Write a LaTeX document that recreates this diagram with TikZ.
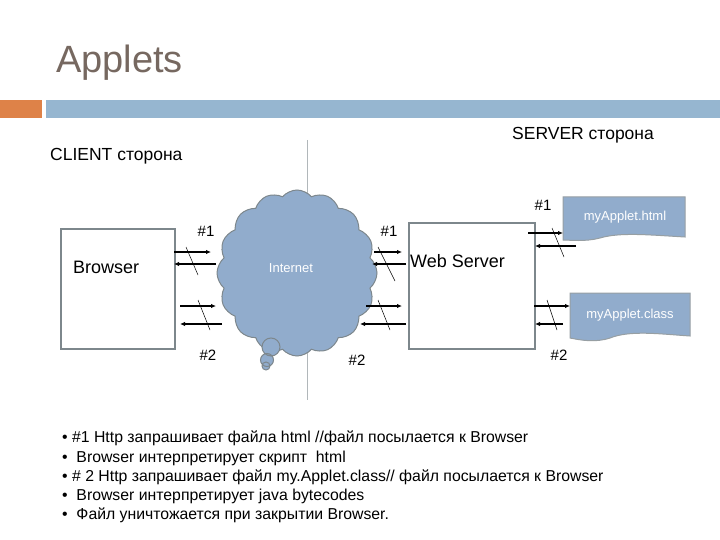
\documentclass[tikz,border=0pt]{standalone}
\usepackage{fontspec}
\setmainfont{Liberation Sans}
\usetikzlibrary{shapes.symbols,arrows.meta}
\definecolor{boxgray}{RGB}{125,135,140}
\definecolor{cloudc}{RGB}{145,172,204}
\definecolor{barblue}{RGB}{150,182,208}
\definecolor{barorange}{RGB}{222,130,72}
\definecolor{titlec}{RGB}{118,104,96}
\begin{document}
\begin{tikzpicture}[x=1pt,y=-1pt,
  box/.style={draw=boxgray,line width=1.6pt},
  arr/.style={line width=1.4pt,-{Latex[length=5pt,width=4.5pt]}},
  sl/.style={line width=0.5pt},
  lab/.style={font=\fontsize{15}{17}\selectfont,inner sep=0pt},
  doc/.style={fill=cloudc,draw=boxgray!80,line width=1pt}]
\useasboundingbox (0,0) rectangle (720,540);
\node[anchor=base west,text=titlec,font=\fontsize{38}{40}\selectfont,inner sep=0pt] (title) at (56,73) {Applets};
\fill[barorange] (0,100) rectangle (42,118);
\fill[barblue] (46,100) rectangle (720,118);
\draw[boxgray!60,line width=0.6pt] (307,140) -- (307,400);
\node[anchor=west,inner sep=0pt,font=\fontsize{17.5}{19}\selectfont] (srv) at (512,135) {SERVER сторона};
\node[anchor=west,inner sep=0pt,font=\fontsize{17.5}{19}\selectfont] (cli) at (50,156) {CLIENT сторона};
% boxes
\node[box,minimum width=114,minimum height=120,anchor=north west] (br) at (60,228) {};
\node[anchor=west,inner sep=0pt,font=\fontsize{18}{20}\selectfont] (brt) at (73,267) {Browser};
\node[box,minimum width=126,minimum height=126,anchor=north west] (ws) at (408,222) {};
\node[anchor=west,inner sep=0pt,font=\fontsize{18}{20}\selectfont] (wst) at (410,261) {Web Server};
% cloud
\node[cloud,cloud puffs=16,cloud puff arc=100,aspect=1.0,fill=cloudc,draw=boxgray,line width=1pt,minimum width=160,minimum height=166,inner sep=0pt] (cl) at (297,273) {};
\node[text=white,inner sep=0pt,font=\fontsize{13}{15}\selectfont] (clt) at (291,268) {Internet};
\draw[fill=cloudc,draw=boxgray,line width=1pt] (271,347) circle (9) (267,360) circle (6.5) (266,366) circle (4);
% docs
\path[doc] (563,197) -- (685,197) -- (685,237) .. controls (650,235) and (620,232) .. (600,238) .. controls (585,242) and (570,240) .. (563,240) -- cycle;
\node[text=white,inner sep=0pt,font=\fontsize{13}{15}\selectfont] (h) at (625,217) {myApplet.html};
\path[doc] (570,293) -- (690,293) -- (690,336) .. controls (660,334) and (630,330) .. (610,338) .. controls (595,343) and (580,340) .. (570,338) -- cycle;
\node[text=white,inner sep=0pt,font=\fontsize{13}{15}\selectfont] (c) at (630,315) {myApplet.class};
% coordinates for arrows
\coordinate (a1s) at (174,252); \coordinate (a1e) at (211,252);
\coordinate (a2s) at (216,264); \coordinate (a2e) at (174,264);
\coordinate (a3s) at (180,306); \coordinate (a3e) at (216,306);
\coordinate (a4s) at (222,324); \coordinate (a4e) at (180,324);
\draw[arr] (a1s) -- (a1e); \draw[arr] (a2s) -- (a2e);
\draw[arr] (a3s) -- (a3e); \draw[arr] (a4s) -- (a4e);
\draw[sl] (186,247) -- (198,275); \draw[sl] (198,300) -- (210,330);
\coordinate (b1s) at (374,252); \coordinate (b1e) at (402,252);
\coordinate (b2s) at (406,264); \coordinate (b2e) at (372,264);
\coordinate (b3s) at (366,306); \coordinate (b3e) at (402,306);
\coordinate (b4s) at (406,324); \coordinate (b4e) at (360,324);
\draw[arr] (b1s) -- (b1e); \draw[arr] (b2s) -- (b2e);
\draw[arr] (b3s) -- (b3e); \draw[arr] (b4s) -- (b4e);
\draw[sl] (378,247) -- (395,281); \draw[sl] (378,300) -- (390,330);
\coordinate (c1s) at (528,233); \coordinate (c1e) at (563,233);
\coordinate (c2s) at (576,246); \coordinate (c2e) at (535,246);
\coordinate (c3s) at (534,306); \coordinate (c3e) at (570,306);
\coordinate (c4s) at (563,324); \coordinate (c4e) at (535,324);
\draw[arr] (c1s) -- (c1e); \draw[arr] (c2s) -- (c2e);
\draw[arr] (c3s) -- (c3e); \draw[arr] (c4s) -- (c4e);
\draw[sl] (552,228) -- (564,257); \draw[sl] (547,300) -- (557,330);
% labels
\node[lab] (l1) at (206,231) {\#1};
\node[lab] (l2) at (208,355) {\#2};
\node[lab] (l3) at (389,231) {\#1};
\node[lab] (l4) at (357,360) {\#2};
\node[lab] (l5) at (543,205) {\#1};
\node[lab] (l6) at (559,355) {\#2};
% bullets
\node[anchor=north west,inner sep=0pt,font=\fontsize{15.8}{19.2}\selectfont,align=left] (txt) at (62,431) {%
• \#1 Http запрашивает файла html //файл посылается к Browser\\
•\ \ Browser интерпретирует скрипт\ \ html\\
• \# 2 Http запрашивает файл my.Applet.class// файл посылается к Browser\\
•\ \ Browser интерпретирует java bytecodes\\
•\ \ Файл уничтожается при закрытии Browser.};
\end{tikzpicture}
\end{document}
